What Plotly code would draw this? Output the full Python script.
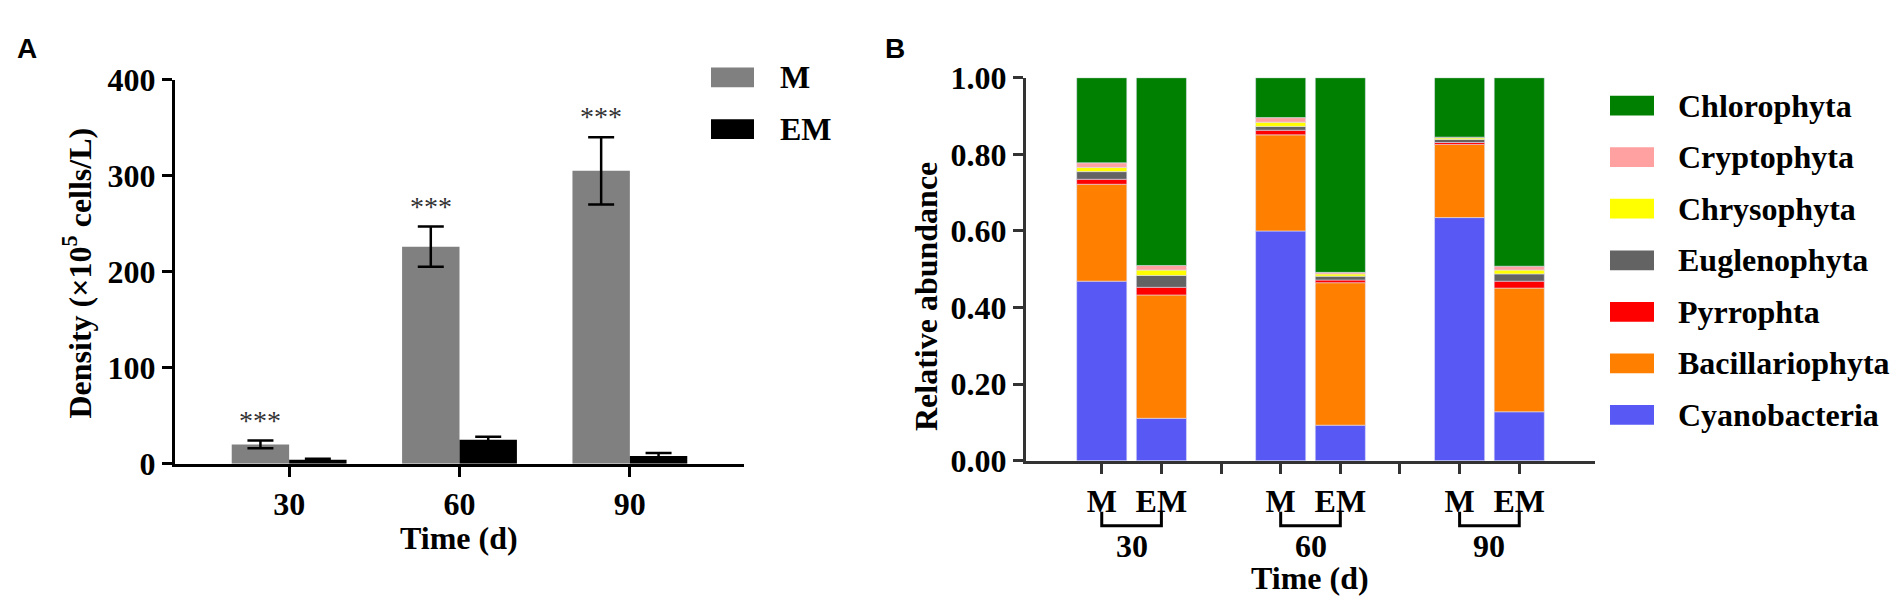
import numpy as np
import plotly.graph_objects as go

# Panel A: algal density (x10^5 cells/L)
days = ["30", "60", "90"]
m_density = [20, 226, 305]
m_sd = [4, 21, 35]
em_density = [4, 25, 8]
em_sd = [1, 3, 3]
sig_labels = ["***", "***", "***"]

# Panel B: relative abundance, samples M/EM per day
treatments = ["M", "EM"]
phyla = ["Cyanobacteria", "Bacillariophyta", "Pyrrophta", "Euglenophyta",
         "Chrysophyta", "Cryptophyta", "Chlorophyta"]
cyanobacteria = [0.469, 0.111, 0.600, 0.093, 0.635, 0.128]
bacillariophyta = [0.253, 0.322, 0.251, 0.372, 0.191, 0.323]
pyrrophta = [0.013, 0.020, 0.012, 0.007, 0.005, 0.018]
euglenophyta = [0.020, 0.031, 0.010, 0.010, 0.008, 0.019]
chrysophyta = [0.011, 0.014, 0.011, 0.006, 0.004, 0.010]
cryptophyta = [0.012, 0.012, 0.012, 0.004, 0.002, 0.010]
chlorophyta = [0.222, 0.490, 0.104, 0.508, 0.155, 0.492]

colors_a = {"M": "#808080", "EM": "#000000"}
colors_b = ["#5858F5", "#FF8000", "#FF0000", "#636363", "#FFFF00", "#FFA1A1", "#008000"]

W, H = 1904, 612
SERIF = "Liberation Serif"
SANS = "Liberation Sans"


def px(x):
    return x / W


def py(y):
    return 1 - y / H


fig = go.Figure()

# ---- panel A: grouped bars with error bars
bw = 0.337
for name, vals, sd, off in [("M", m_density, m_sd, -bw), ("EM", em_density, em_sd, 0.0)]:
    fig.add_trace(go.Bar(
        x=days, y=vals, name=name, width=bw, offset=off,
        marker=dict(color=colors_a[name], line=dict(width=0)),
        error_y=dict(type="data", array=sd, color="black", thickness=2.5, width=13),
        xaxis="x", yaxis="y", showlegend=False))

# ---- panel B: stacked bars, placed on slots (gap slot between days)
layers = [cyanobacteria, bacillariophyta, pyrrophta, euglenophyta,
          chrysophyta, cryptophyta, chlorophyta]
slots = [g * 3 + k for g in range(len(days)) for k in range(len(treatments))]
gap_slots = [g * 3 + 2 for g in range(len(days) - 1)]
base = np.zeros(len(slots))
for name, vals, col in zip(phyla, layers, colors_b):
    fig.add_trace(go.Bar(
        x=slots, y=vals, base=base.copy(), name=name, width=0.84,
        marker=dict(color=col, line=dict(width=0.8, color="rgba(225,225,245,0.7)")),
        xaxis="x2", yaxis="y2", showlegend=False))
    base += np.array(vals)

tick_font = dict(family=SERIF, size=32, color="black", weight="bold")
axis_common = dict(showline=True, linewidth=3, ticks="outside", ticklen=10, tickwidth=3,
                   showgrid=False, zeroline=False, tickfont=tick_font, fixedrange=True)

fig.update_layout(
    width=W, height=H, margin=dict(l=0, r=0, t=0, b=0),
    paper_bgcolor="white", plot_bgcolor="white", barmode="overlay",
    xaxis=dict(domain=[px(167), px(736)], type="category", range=[-0.67, 2.67],
               anchor="y", linecolor="black", tickcolor="black", **axis_common),
    yaxis=dict(domain=[py(465), py(57)], range=[0, 400], dtick=100, anchor="x",
               linecolor="black", tickcolor="black", **axis_common),
    xaxis2=dict(domain=[px(1018), px(1587)], range=[-1.27, 8.27],
                tickvals=slots, ticktext=treatments * len(days),
                minor=dict(tickvals=gap_slots, ticks="outside", ticklen=10, tickwidth=3,
                           tickcolor="#333333", showgrid=False),
                anchor="y2", linecolor="#333333", tickcolor="#333333", **axis_common),
    yaxis2=dict(domain=[py(462), py(55)], range=[0, 1], dtick=0.2, tickformat=".2f",
                anchor="x2", linecolor="#333333", tickcolor="#333333", **axis_common),
)

ann = []
shapes = []
title_font = dict(family=SERIF, size=32, color="black", weight="bold")


def label(x, y, text, font, xanchor="center", **kw):
    return dict(x=x, y=y, text=text, showarrow=False, font=font,
                xanchor=xanchor, yanchor=kw.pop("yanchor", "middle"), **kw)


# significance stars above M bars
for i, lab in enumerate(sig_labels):
    ann.append(label(i - bw / 2, m_density[i] + m_sd[i], lab,
                     dict(family=SERIF, size=28, color="#333333"),
                     xref="x", yref="y", yanchor="bottom", yshift=3))

# axis titles
ann.append(label(px(69), py(263), "Density (×10<sup>5</sup> cells/L)", title_font,
                 xref="paper", yref="paper", textangle=-90))
ann.append(label(px(451), py(544), "Time (d)", title_font, xref="paper", yref="paper"))
ann.append(label(px(918), py(288), "Relative abundance", title_font,
                 xref="paper", yref="paper", textangle=-90))
ann.append(label(px(1302), py(587), "Time (d)", title_font, xref="paper", yref="paper"))

# panel letters
letter_font = dict(family=SANS, size=28, color="black", weight="bold")
ann.append(label(px(19), py(24), "A", letter_font, xref="paper", yref="paper"))
ann.append(label(px(887), py(24), "B", letter_font, xref="paper", yref="paper"))

# day brackets and labels under panel B
for g, d in enumerate(days):
    x0, x1 = g * 3, g * 3 + 1
    shapes.append(dict(type="path", xref="x2", yref="paper",
                       path=f"M {x0},{py(516)} L {x0},{py(531)} L {x1},{py(531)} L {x1},{py(516)}",
                       line=dict(color="black", width=3)))
    ann.append(label((x0 + x1) / 2, py(553), d, title_font, xref="x2", yref="paper"))

# legend A (manual)
for k, name in enumerate(treatments):
    yc = 54.5 + k * 55
    shapes.append(dict(type="rect", xref="paper", yref="paper",
                       x0=px(703), x1=px(746), y0=py(yc - 10.5), y1=py(yc + 10.5),
                       fillcolor=colors_a[name], line=dict(width=0)))
    ann.append(label(px(770), py(yc), name, title_font, xanchor="left",
                     xref="paper", yref="paper"))

# legend B (manual, top = Chlorophyta)
for k, (name, col) in enumerate(zip(phyla[::-1], colors_b[::-1])):
    yc = 84.5 + k * 54.8
    shapes.append(dict(type="rect", xref="paper", yref="paper",
                       x0=px(1602), x1=px(1646), y0=py(yc - 10.5), y1=py(yc + 10.5),
                       fillcolor=col, line=dict(width=0)))
    ann.append(label(px(1668), py(yc), name, title_font, xanchor="left",
                     xref="paper", yref="paper"))

fig.update_layout(annotations=ann, shapes=shapes)

fig.write_html("out.html")
